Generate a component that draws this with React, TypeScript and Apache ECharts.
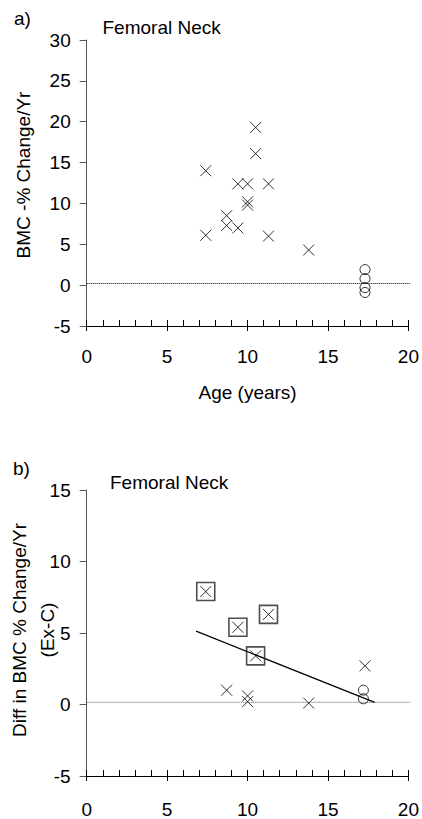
import React, { useEffect, useRef } from "react";
import * as echarts from "echarts";

// ---- Data ----
const panelLabels = ["a)", "b)"];
const panelTitles = ["Femoral Neck", "Femoral Neck"];
const xAxisTitle = "Age (years)";
const yTitleTop = "BMC -% Change/Yr";
const yTitleBottom = "Diff in BMC % Change/Yr\n(Ex-C)";

// Panel a: exercisers (crosses) and controls (circles)
const topCross: [number, number][] = [
  [7.4, 14.0], [7.4, 6.1], [8.7, 8.5], [8.7, 7.3], [9.4, 7.0], [9.4, 12.4],
  [10.0, 12.4], [10.0, 10.2], [10.0, 9.8], [10.5, 19.3], [10.5, 16.1],
  [11.3, 12.4], [11.3, 6.0], [13.8, 4.3],
];
const topCircle: [number, number][] = [
  [17.3, 1.9], [17.3, 0.8], [17.3, -0.3], [17.3, -0.9],
];
const topZeroRef: [number, number][] = [[0, 0.2], [20.2, 0.2]];

// Panel b: differences
const bottomBoxed: [number, number][] = [
  [7.4, 7.9], [9.4, 5.4], [11.3, 6.3], [10.5, 3.4],
];
const bottomCross: [number, number][] = [
  [7.4, 7.9], [9.4, 5.4], [11.3, 6.3], [10.5, 3.4],
  [8.7, 1.0], [10.0, 0.6], [10.0, 0.2], [13.8, 0.1], [17.3, 2.7],
];
const bottomCircle: [number, number][] = [[17.2, 1.0], [17.2, 0.4]];
const bottomRegression: [number, number][] = [[6.8, 5.13], [17.9, 0.15]];
const bottomZeroRef: [number, number][] = [[0, 0.15], [20.2, 0.15]];

const FONT = '"Liberation Sans", Arial, Helvetica, sans-serif';
const FS = 19;
const CROSS = "path://M0,0L10,10M10,0L0,10";

function xAxes(gridIndex: number, labelMargin: number, withName: boolean) {
  return [
    {
      gridIndex,
      type: "value",
      min: 0,
      max: 20,
      interval: 5,
      position: "bottom",
      axisLine: { show: true, onZero: false, lineStyle: { color: "#000", width: 1 } },
      axisTick: { show: true, inside: false, length: 5, lineStyle: { color: "#000" } },
      axisLabel: { fontSize: FS, fontFamily: FONT, color: "#000", margin: labelMargin },
      splitLine: { show: false },
      name: withName ? xAxisTitle : "",
      nameLocation: "middle",
      nameGap: 57,
      nameTextStyle: { fontSize: FS, fontFamily: FONT, color: "#000" },
    },
    {
      gridIndex,
      type: "value",
      min: 0,
      max: 20,
      interval: 1,
      position: "bottom",
      axisLine: { show: false, onZero: false },
      axisTick: { show: true, inside: true, length: 6, lineStyle: { color: "#000" } },
      axisLabel: { show: false },
      splitLine: { show: false },
    },
  ];
}

function yAxis(gridIndex: number, max: number) {
  return {
    gridIndex,
    type: "value",
    min: -5,
    max,
    interval: 5,
    axisLine: { show: true, onZero: false, lineStyle: { color: "#555", width: 1 } },
    axisTick: { show: true, inside: false, length: 7, lineStyle: { color: "#555" } },
    axisLabel: { fontSize: FS, fontFamily: FONT, color: "#000", margin: 16 },
    splitLine: { show: false },
  };
}

export default function App() {
  const ref = useRef<HTMLDivElement>(null);

  useEffect(() => {
    if (!ref.current) return;
    const chart = echarts.init(ref.current, undefined, { renderer: "svg" });
    const crossStyle = { color: "transparent", borderColor: "#000", borderWidth: 1 };
    chart.setOption({
      animation: false,
      backgroundColor: "#fff",
      textStyle: { fontFamily: FONT },
      grid: [
        { left: 86.7, right: 12, top: 40, height: 286 },
        { left: 86.7, right: 12, top: 490, height: 287.5 },
      ],
      xAxis: [...xAxes(0, 21, true), ...xAxes(1, 24, false)],
      yAxis: [yAxis(0, 30), yAxis(1, 15)],
      series: [
        {
          type: "line",
          xAxisIndex: 0,
          yAxisIndex: 0,
          data: topZeroRef,
          symbol: "none",
          silent: true,
          lineStyle: { color: "#000", width: 1, type: [1, 1] },
          z: 1,
        },
        {
          type: "scatter",
          xAxisIndex: 0,
          yAxisIndex: 0,
          data: topCross,
          symbol: CROSS,
          symbolSize: 11,
          itemStyle: crossStyle,
        },
        {
          type: "scatter",
          xAxisIndex: 0,
          yAxisIndex: 0,
          data: topCircle,
          symbol: "circle",
          symbolSize: 10,
          itemStyle: crossStyle,
        },
        {
          type: "line",
          xAxisIndex: 2,
          yAxisIndex: 1,
          data: bottomZeroRef,
          symbol: "none",
          silent: true,
          lineStyle: { color: "#666", width: 1, type: [1, 1] },
          z: 1,
        },
        {
          type: "line",
          xAxisIndex: 2,
          yAxisIndex: 1,
          data: bottomRegression,
          symbol: "none",
          silent: true,
          lineStyle: { color: "#000", width: 1.2 },
          z: 2,
        },
        {
          type: "scatter",
          xAxisIndex: 2,
          yAxisIndex: 1,
          data: bottomBoxed,
          symbol: "rect",
          symbolSize: 18,
          itemStyle: { color: "transparent", borderColor: "#222", borderWidth: 1.6 },
        },
        {
          type: "scatter",
          xAxisIndex: 2,
          yAxisIndex: 1,
          data: bottomCross,
          symbol: CROSS,
          symbolSize: 11,
          itemStyle: crossStyle,
        },
        {
          type: "scatter",
          xAxisIndex: 2,
          yAxisIndex: 1,
          data: bottomCircle,
          symbol: "circle",
          symbolSize: 10,
          itemStyle: crossStyle,
        },
      ],
      graphic: [
        {
          type: "text",
          x: 14,
          y: 18.5,
          style: { text: panelLabels[0], font: `${FS}px ${FONT}`, fill: "#000", align: "left", verticalAlign: "middle" },
        },
        {
          type: "text",
          x: 13,
          y: 468.5,
          style: { text: panelLabels[1], font: `${FS}px ${FONT}`, fill: "#000", align: "left", verticalAlign: "middle" },
        },
        {
          type: "text",
          x: 102.5,
          y: 27,
          style: { text: panelTitles[0], font: `${FS}px ${FONT}`, fill: "#000", align: "left", verticalAlign: "middle" },
        },
        {
          type: "text",
          x: 110,
          y: 482,
          style: { text: panelTitles[1], font: `${FS}px ${FONT}`, fill: "#000", align: "left", verticalAlign: "middle" },
        },
        {
          type: "text",
          x: 23.5,
          y: 175,
          rotation: Math.PI / 2,
          style: { text: yTitleTop, font: `${FS}px ${FONT}`, fill: "#000", align: "center", verticalAlign: "middle" },
        },
        {
          type: "text",
          x: 33.5,
          y: 630,
          rotation: Math.PI / 2,
          style: {
            text: yTitleBottom,
            font: `${FS}px ${FONT}`,
            fill: "#000",
            align: "center",
            verticalAlign: "middle",
            lineHeight: 27.5,
          },
        },
      ],
    });
    return () => chart.dispose();
  }, []);

  return (
    <div
      ref={ref}
      style={{ position: "fixed", left: 0, top: 0, width: 422, height: 819, background: "#fff" }}
    />
  );
}
